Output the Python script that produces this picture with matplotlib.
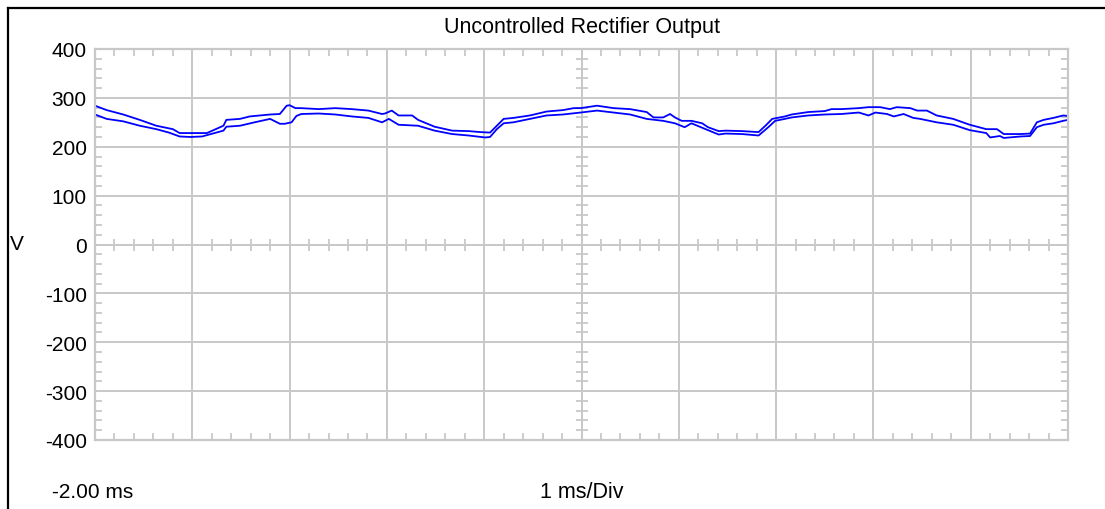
import matplotlib.pyplot as plt
from matplotlib.lines import Line2D
from matplotlib.ticker import MultipleLocator, AutoMinorLocator

plt.rcParams['font.family'] = ['Liberation Sans', 'DejaVu Sans']
plt.rcParams['axes.unicode_minus'] = False

# trace data (ms, V)
time_upper = [-2.00, -1.88, -1.71, -1.54, -1.37, -1.20, -1.13, -1.02, -0.85, -0.68,
              -0.65, -0.51, -0.41, -0.20, -0.10, -0.03, 0.00, 0.06, 0.12, 0.30,
              0.47, 0.64, 0.81, 0.95, 0.98, 1.05, 1.12, 1.26, 1.32, 1.49,
              1.67, 1.84, 1.96, 2.06, 2.13, 2.20, 2.30, 2.47, 2.64, 2.81,
              2.92, 2.99, 3.16, 3.33, 3.50, 3.67, 3.74, 3.84, 3.91, 3.96,
              4.03, 4.13, 4.24, 4.30, 4.41, 4.48, 4.65, 4.82, 4.89, 4.96,
              5.09, 5.16, 5.33, 5.50, 5.57, 5.67, 5.85, 5.95, 6.07, 6.17,
              6.24, 6.38, 6.45, 6.55, 6.65, 6.82, 6.99, 7.16, 7.27, 7.34,
              7.51, 7.61, 7.68, 7.75, 7.85, 7.95, 8.00]
volts_upper = [284, 275, 266, 255, 243, 236, 228, 228, 228, 243,
               255, 257, 262, 266, 267, 284, 285, 279, 279, 277,
               279, 277, 274, 267, 268, 274, 264, 264, 255, 241,
               233, 232, 230, 229, 243, 257, 259, 264, 272, 275,
               279, 279, 284, 279, 277, 271, 260, 260, 267, 260,
               253, 253, 248, 240, 232, 233, 232, 230, 243, 257,
               262, 266, 271, 273, 277, 277, 279, 281, 281, 277,
               281, 279, 274, 274, 264, 257, 245, 236, 236, 226,
               226, 227, 250, 255, 259, 264, 263]

time_lower = [-2.00, -1.88, -1.71, -1.54, -1.37, -1.24, -1.13, -1.02, -0.90, -0.68,
              -0.65, -0.51, -0.36, -0.20, -0.10, -0.05, 0.02, 0.07, 0.12, 0.30,
              0.47, 0.64, 0.81, 0.95, 1.02, 1.12, 1.32, 1.49, 1.67, 1.84,
              2.01, 2.06, 2.13, 2.20, 2.30, 2.47, 2.64, 2.81, 2.99, 3.16,
              3.33, 3.50, 3.67, 3.84, 3.96, 4.06, 4.13, 4.30, 4.41, 4.48,
              4.65, 4.82, 4.92, 4.99, 5.09, 5.16, 5.33, 5.50, 5.67, 5.85,
              5.95, 6.02, 6.14, 6.21, 6.31, 6.41, 6.48, 6.65, 6.82, 6.99,
              7.16, 7.20, 7.30, 7.34, 7.51, 7.61, 7.68, 7.75, 7.85, 7.95, 8.00]
volts_lower = [266, 257, 252, 243, 236, 229, 221, 220, 221, 233,
               241, 243, 250, 257, 247, 247, 250, 263, 267, 268,
               266, 262, 259, 250, 257, 245, 243, 233, 226, 223,
               219, 220, 236, 248, 250, 257, 264, 266, 270, 274,
               270, 266, 257, 253, 248, 240, 248, 234, 225, 227,
               226, 223, 240, 253, 257, 260, 264, 266, 267, 270,
               264, 270, 267, 262, 267, 259, 257, 250, 245, 234,
               228, 219, 222, 218, 221, 222, 240, 245, 248, 253, 255]

x_range = (-2, 8)
y_range = (-400, 400)
title = 'Uncontrolled Rectifier Output'

grid_c = '#c8c8c8'
trace_c = '#0000ff'

W, H = 1105, 510
fig = plt.figure(figsize=(W / 100, H / 100), dpi=100)
rect = [95 / W, 1 - 441 / H, (1068 - 95) / W, (441 - 50) / H]

# back axes: only the ticked centre lines
ax2 = fig.add_axes(rect, zorder=0)
ax2.set_xlim(*x_range)
ax2.set_ylim(*y_range)
for s in ['top', 'right']:
    ax2.spines[s].set_visible(False)
ax2.spines['left'].set_position(('data', 3))
ax2.spines['bottom'].set_position(('data', 0))
for s in ['left', 'bottom']:
    ax2.spines[s].set_color(grid_c)
    ax2.spines[s].set_linewidth(1.4)
ax2.xaxis.set_major_locator(MultipleLocator(1))
ax2.xaxis.set_minor_locator(AutoMinorLocator(5))
ax2.yaxis.set_major_locator(MultipleLocator(100))
ax2.yaxis.set_minor_locator(AutoMinorLocator(5))
ax2.tick_params(which='major', length=0, labelleft=False, labelbottom=False)
ax2.tick_params(which='minor', direction='inout', length=9, width=1.3, color=grid_c)

# front axes: grid, frame, traces
ax = fig.add_axes(rect, zorder=1)
ax.patch.set_visible(False)
ax.set_xlim(*x_range)
ax.set_ylim(*y_range)
ax.xaxis.set_major_locator(MultipleLocator(1))
ax.xaxis.set_minor_locator(AutoMinorLocator(5))
ax.yaxis.set_major_locator(MultipleLocator(100))
ax.yaxis.set_minor_locator(AutoMinorLocator(5))
ax.grid(which='major', color=grid_c, lw=1.4)
ax.tick_params(which='major', length=0, labelsize=15, pad=6, labelbottom=False)
ax.tick_params(which='minor', direction='in', length=5, width=1.3, color=grid_c,
               top=True, right=True)
for s in ax.spines.values():
    s.set_color(grid_c)
    s.set_linewidth(1.6)

ax.plot(time_upper, volts_upper, color=trace_c, lw=1.3)
ax.plot(time_lower, volts_lower, color=trace_c, lw=1.3)

# outer black frame (left and top only)
fig.add_artist(Line2D([8 / W, 8 / W], [0, 1 - 9 / H], transform=fig.transFigure,
                      color='black', lw=1.6))
fig.add_artist(Line2D([8 / W, 1], [1 - 9 / H, 1 - 9 / H], transform=fig.transFigure,
                      color='black', lw=1.6))

fig.text(582 / W, 1 - 28 / H, title, ha='center', va='center', fontsize=15.5)
fig.text(10 / W, 1 - 245 / H, 'V', ha='left', va='center', fontsize=15)
fig.text(52 / W, 1 - 493 / H, '-2.00 ms', ha='left', va='center', fontsize=15)
fig.text(582 / W, 1 - 493 / H, '1 ms/Div', ha='center', va='center', fontsize=15.5)

fig.savefig('out.png', dpi=100)
